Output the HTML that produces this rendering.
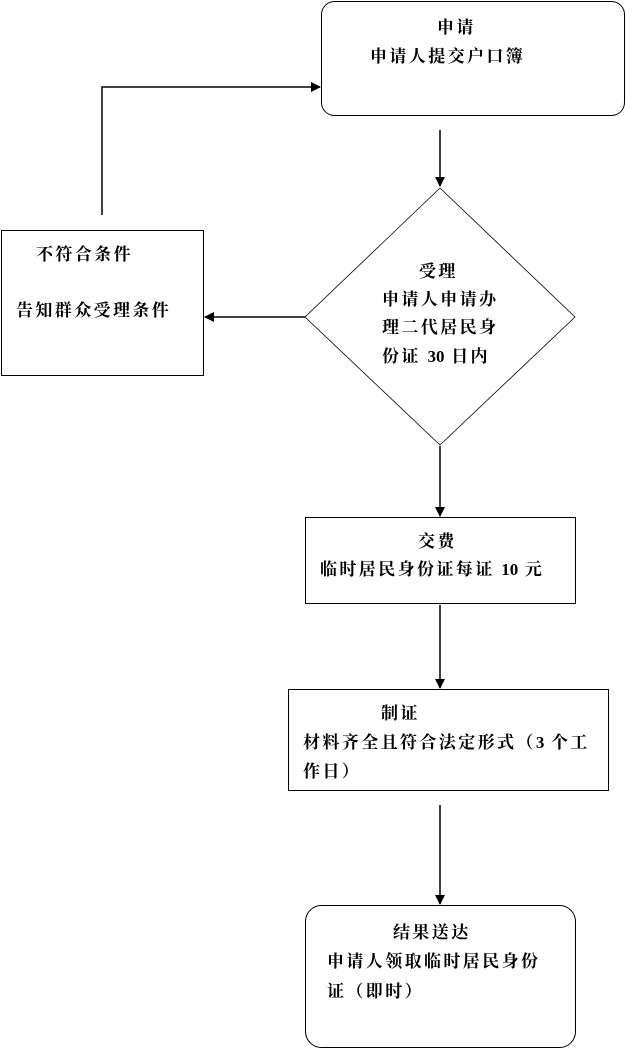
<!DOCTYPE html>
<html><head><meta charset="utf-8"><style>
html,body{margin:0;padding:0;background:#fff;}
svg{display:block;}
text{font-family:"Liberation Serif","Noto Serif CJK SC",serif;font-weight:bold;font-size:17px;letter-spacing:2.4px;fill:#000;}
.n{letter-spacing:0;}
</style></head><body>
<svg width="629" height="1050" viewBox="0 0 629 1050" xmlns="http://www.w3.org/2000/svg">
<defs><marker id="a" markerWidth="10" markerHeight="10" refX="9" refY="5" orient="auto" markerUnits="userSpaceOnUse"><path d="M0,0 L10,5 L0,10 z" fill="#000"/></marker></defs>
<g fill="none" stroke="#000" stroke-width="1">
<rect x="321.5" y="1.5" width="303" height="114" rx="13"/>
<polygon points="440,188 575,317 440,445 305,317" stroke-width="0.8"/>
<rect x="1.5" y="230.5" width="202" height="145"/>
<rect x="305.5" y="517.5" width="270" height="86"/>
<rect x="288.5" y="689.5" width="320" height="101"/>
<rect x="305.5" y="905.5" width="270" height="142" rx="16"/>
</g>
<g stroke="#000" stroke-width="1.5" fill="none">
<line x1="440" y1="130" x2="440" y2="186" marker-end="url(#a)"/>
<line x1="305" y1="317" x2="205" y2="317" marker-end="url(#a)"/>
<polyline points="102,215 102,87 320,87" marker-end="url(#a)"/>
<line x1="440" y1="446" x2="440" y2="516" marker-end="url(#a)"/>
<line x1="440" y1="605" x2="440" y2="688" marker-end="url(#a)"/>
<line x1="440" y1="805" x2="440" y2="904" marker-end="url(#a)"/>
</g>
<text x="437" y="33">申请</text>
<text x="370" y="62">申请人提交户口簿</text>
<text x="36" y="260">不符合条件</text>
<text x="16" y="316">告知群众受理条件</text>
<text x="419" y="277">受理</text>
<text x="382" y="305">申请人申请办</text>
<text x="382" y="333">理二代居民身</text>
<text x="382" y="362">份证 <tspan class="n">30</tspan> 日内</text>
<text x="418" y="547">交费</text>
<text x="320" y="575">临时居民身份证每证 <tspan class="n">10</tspan> 元</text>
<text x="381" y="719">制证</text>
<text x="303" y="748">材料齐全且符合法定形式（<tspan class="n">3</tspan> 个工</text>
<text x="303" y="777">作日）</text>
<text x="393" y="938">结果送达</text>
<text x="327" y="967">申请人领取临时居民身份</text>
<text x="327" y="997">证（即时）</text>
</svg>
</body></html>
